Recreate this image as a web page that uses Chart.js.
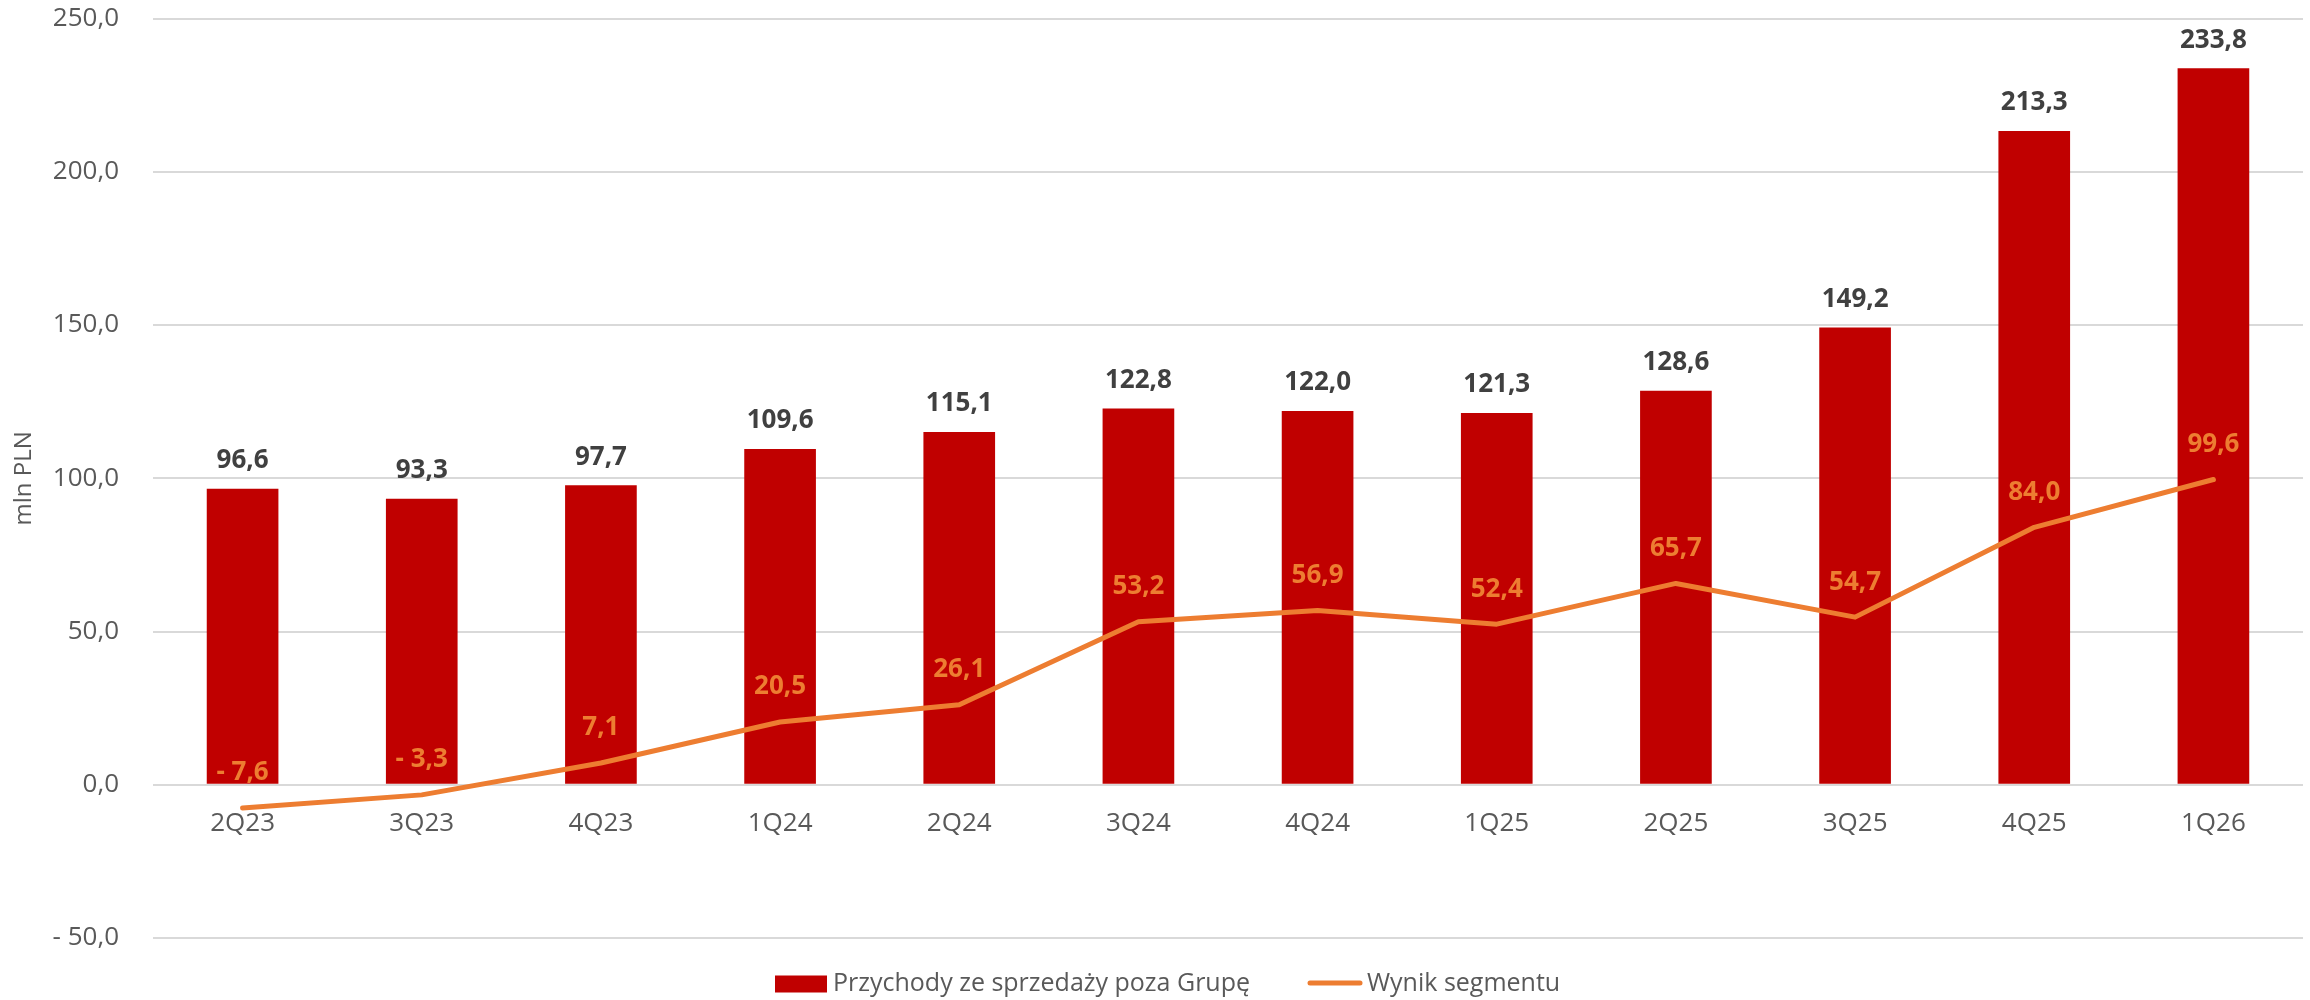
<!DOCTYPE html>
<html>
<head>
<meta charset="utf-8">
<script src="https://cdn.jsdelivr.net/npm/chart.js@4.4.1/dist/chart.umd.min.js"></script>
<style>
  html, body { margin: 0; padding: 0; background: #ffffff; }
  #wrap { width: 2310px; height: 1000px; position: relative; }
</style>
</head>
<body>
<div id="wrap"><canvas id="c" width="2310" height="1000"></canvas></div>
<script>
// ---- data ----
const categories = ['2Q23', '3Q23', '4Q23', '1Q24', '2Q24', '3Q24', '4Q24', '1Q25', '2Q25', '3Q25', '4Q25', '1Q26'];
const revenue = [96.6, 93.3, 97.7, 109.6, 115.1, 122.8, 122.0, 121.3, 128.6, 149.2, 213.3, 233.8];
const segmentResult = [-7.6, -3.3, 7.1, 20.5, 26.1, 53.2, 56.9, 52.4, 65.7, 54.7, 84.0, 99.6];
const seriesNames = ['Przychody ze sprzedaży poza Grupę', 'Wynik segmentu'];
const yTicks = [-50, 0, 50, 100, 150, 200, 250];
const yTitle = 'mln PLN';

const RED = '#C00000';
const ORANGE = '#ED7D31';
const FONT = '"Open Sans", "Noto Sans", sans-serif';

function fmt(v) {
  const s = Math.abs(v).toFixed(1).replace('.', ',');
  return v < 0 ? '- ' + s : s;
}

const labelsPlugin = {
  id: 'valueLabels',
  afterDatasetsDraw(chart) {
    const ctx = chart.ctx;
    ctx.save();
    ctx.textAlign = 'center';
    ctx.textBaseline = 'middle';
    const barMeta = chart.getDatasetMeta(0);
    ctx.font = 'bold 26px ' + FONT;
    ctx.fillStyle = '#404040';
    barMeta.data.forEach((el, i) => {
      ctx.fillText(fmt(revenue[i]), el.x, el.y - 28);
    });
    const lineMeta = chart.getDatasetMeta(1);
    ctx.font = 'bold 26px ' + FONT;
    ctx.fillStyle = ORANGE;
    lineMeta.data.forEach((el, i) => {
      ctx.fillText(fmt(segmentResult[i]), el.x, el.y - 35);
    });
    ctx.restore();
  }
};

const legendPlugin = {
  id: 'customLegend',
  afterDraw(chart) {
    const ctx = chart.ctx;
    const area = chart.chartArea;
    const cy = area.bottom + 46;
    const ds = chart.data.datasets;
    ctx.save();
    ctx.font = '25px ' + FONT;
    ctx.textBaseline = 'middle';
    ctx.textAlign = 'left';
    let x = area.left + 622;
    ctx.fillStyle = ds[0].backgroundColor;
    ctx.fillRect(x, cy - 8.5, 52, 17);
    x += 58;
    ctx.fillStyle = '#595959';
    ctx.fillText(ds[0].label, x, cy);
    x += ctx.measureText(ds[0].label).width + 58;
    ctx.strokeStyle = ds[1].borderColor;
    ctx.lineWidth = 5;
    ctx.lineCap = 'round';
    ctx.beginPath();
    ctx.moveTo(x + 2, cy - 1);
    ctx.lineTo(x + 52, cy - 1);
    ctx.stroke();
    x += 59;
    ctx.fillText(ds[1].label, x, cy);
    ctx.restore();
  }
};

new Chart(document.getElementById('c'), {
  type: 'bar',
  data: {
    labels: categories,
    datasets: [
      {
        type: 'bar',
        label: seriesNames[0],
        data: revenue,
        backgroundColor: RED,
        borderWidth: 0,
        categoryPercentage: 1.0,
        barPercentage: 0.4,
        order: 2
      },
      {
        type: 'line',
        label: seriesNames[1],
        data: segmentResult,
        borderColor: ORANGE,
        backgroundColor: ORANGE,
        borderWidth: 5,
        borderCapStyle: 'round',
        borderJoinStyle: 'round',
        pointRadius: 0,
        tension: 0,
        order: 1
      }
    ]
  },
  options: {
    responsive: false,
    animation: false,
    devicePixelRatio: 1,
    layout: { padding: { left: 0, right: 7, top: 0, bottom: 62 } },
    plugins: {
      legend: { display: false },
      tooltip: { enabled: false }
    },
    scales: {
      x: {
        position: { y: 0 },
        grid: { display: false, drawTicks: false },
        border: { display: false },
        ticks: {
          color: '#595959',
          font: { family: FONT, size: 26 },
          padding: 23,
          maxRotation: 0
        }
      },
      y: {
        min: -50,
        max: 250,
        afterBuildTicks(scale) {
          scale.ticks = yTicks.map(v => ({ value: v }));
        },
        afterFit(scale) { scale.width = 153; },
        grid: { color: '#D9D9D9', lineWidth: 2, drawTicks: true, tickLength: 31, tickColor: 'rgba(0,0,0,0)' },
        border: { display: false },
        ticks: {
          color: '#595959',
          font: { family: FONT, size: 26 },
          padding: 3,
          callback: v => fmt(v)
        },
        title: {
          display: true,
          text: yTitle,
          color: '#595959',
          font: { family: FONT, size: 24 },
          padding: { top: 10, bottom: 0 }
        }
      }
    }
  },
  plugins: [labelsPlugin, legendPlugin]
});
</script>
</body>
</html>
